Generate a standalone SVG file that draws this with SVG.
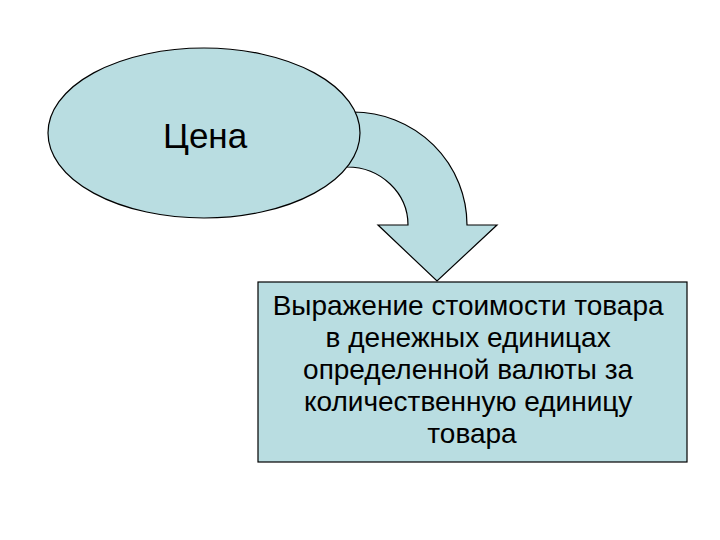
<svg xmlns="http://www.w3.org/2000/svg" width="720" height="540" viewBox="0 0 720 540">
<style>
.shape{fill:#b9dde1;stroke:#000;stroke-width:1.2}
.t{font-family:"Liberation Sans",Arial,sans-serif;fill:#000}
</style>
<rect width="720" height="540" fill="#fff"/>
<g id="connectors">
<path class="shape" d="M353,112 A114,113 0 0 1 467,225 L497,225 L437,281 L378,225 L408,225 A61,58 0 0 0 347,167 Z"/>
</g>
<g id="node-price">
<ellipse class="shape" cx="204" cy="133" rx="156" ry="85"/>
<text class="t" x="163" y="148" font-size="35">Цена</text>
</g>
<g id="node-definition">
<rect class="shape" x="258" y="282" width="429" height="180"/>
<text class="t" font-size="28" text-anchor="middle">
<tspan x="472" y="315">Выражение стоимости товара</tspan>
<tspan x="472" y="347">в денежных единицах</tspan>
<tspan x="472" y="379">определенной валюты за</tspan>
<tspan x="472" y="411">количественную единицу</tspan>
<tspan x="472" y="443">товара</tspan>
</text>
</g>
</svg>
